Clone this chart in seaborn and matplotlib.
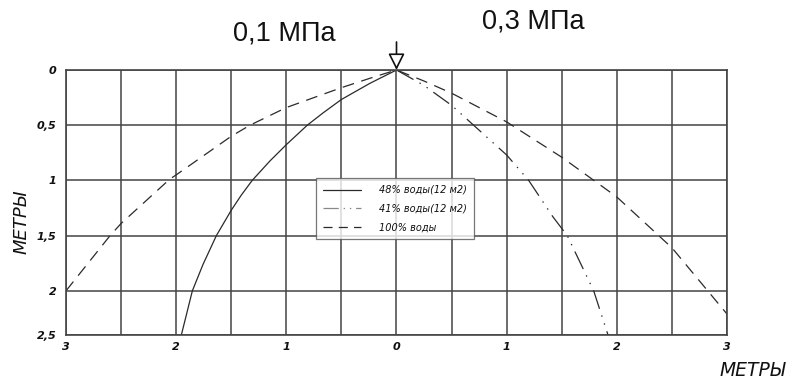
import matplotlib
matplotlib.use("Agg")
import matplotlib.pyplot as plt
from matplotlib.lines import Line2D
import seaborn as sns
import pandas as pd

# ---- data ----
solid_x = [0, -0.24, -0.5, -0.666, -0.81, -1.0, -1.15, -1.31, -1.41, -1.5,
           -1.635, -1.756, -1.853, -1.953]
solid_y = [0, 0.12, 0.267, 0.388, 0.5, 0.676, 0.825, 1.0, 1.135, 1.27,
           1.5, 1.76, 2.0, 2.4]

dashdot_x = [0, 0.25, 0.5, 1.0, 1.2, 1.42, 1.55, 1.79, 1.92]
dashdot_y = [0, 0.14, 0.32, 0.77, 1.0, 1.33, 1.5, 2.0, 2.4]

dashed_x = [-3.0, -2.6, -2.5, -2.06, -2.0, -1.5, -1.33, -1.0, -0.5, -0.18, 0,
            0.25, 0.5, 1.0, 1.5, 2.0, 2.5, 3.0]
dashed_y = [2.0, 1.5, 1.39, 0.99, 0.95, 0.60, 0.5, 0.34, 0.16, 0.055, 0,
            0.10, 0.21, 0.47, 0.79, 1.15, 1.61, 2.21]

series_labels = ["48% воды(12 м2)", "41% воды(12 м2)", "100% воды"]

x_ticks = [-3, -2.5, -2, -1.5, -1, -0.5, 0, 0.5, 1, 1.5, 2, 2.5, 3]
x_tick_labels = ["3", "", "2", "", "1", "", "0", "", "1", "", "2", "", "3"]
y_ticks = [0, 0.5, 1, 1.5, 2, 2.4]
y_tick_labels = ["0", "0,5", "1", "1,5", "2", "2,5"]

left_title = "0,1 МПа"
right_title = "0,3 МПа"
axis_label = "МЕТРЫ"

# ---- styling ----
sns.set_theme(style="white")
plt.rcParams["font.family"] = ["DejaVu Sans"]
plt.rcParams["lines.scale_dashes"] = False

fig = plt.figure(figsize=(8.04, 3.89), dpi=100)
ax = fig.add_axes([66 / 804, 1 - 335 / 389, 661 / 804, 265 / 389])

grid_c = "#444444"
line_c = "#2a2a2a"
lw = 0.9
dd_style = (0, (14, 5, 1, 5, 1, 5))
dash_style = (0, (8.5, 5.5))

df_solid = pd.DataFrame({"x": solid_x, "y": solid_y})
df_dd = pd.DataFrame({"x": dashdot_x, "y": dashdot_y})
df_dash = pd.DataFrame({"x": dashed_x, "y": dashed_y})

sns.lineplot(data=df_solid, x="x", y="y", sort=False, estimator=None, ax=ax,
             color=line_c, lw=lw)
sns.lineplot(data=df_dd, x="x", y="y", sort=False, estimator=None, ax=ax,
             color=line_c, lw=lw, linestyle=dd_style)
sns.lineplot(data=df_dash, x="x", y="y", sort=False, estimator=None, ax=ax,
             color=line_c, lw=lw, linestyle=dash_style)

ax.set_xlim(-3, 3)
ax.set_ylim(2.4, 0)
ax.set_xticks(x_ticks)
ax.set_xticklabels(x_tick_labels)
ax.set_yticks(y_ticks)
ax.set_yticklabels(y_tick_labels)
ax.grid(True, color=grid_c, lw=1.1)
ax.set_axisbelow(True)
for s in ax.spines.values():
    s.set_visible(True)
    s.set_color(grid_c)
    s.set_linewidth(1.2)

ax.tick_params(axis="both", length=0)
ax.tick_params(axis="x", pad=5)
ax.tick_params(axis="y", pad=7)
for lab in ax.get_xticklabels() + ax.get_yticklabels():
    lab.set_fontstyle("italic")
    lab.set_fontweight("bold")
    lab.set_fontsize(8)
    lab.set_color("#111111")

ax.set_xlabel("")
ax.set_ylabel(axis_label, fontsize=13, fontstyle="italic", color="#111111")
ax.yaxis.set_label_coords(-0.053, 0.5 - (222 - 202.5) / 265)

fig.text(720 / 804, 1 - 370 / 389, axis_label, fontsize=13.5, fontstyle="italic",
         color="#111111", ha="left", va="center")

fig.text(284 / 804, 1 - 33 / 389, left_title, fontsize=19.5,
         family="Liberation Sans", ha="center", va="center", color="#111111")
fig.text(533 / 804, 1 - 22 / 389, right_title, fontsize=19.5,
         family="Liberation Sans", ha="center", va="center", color="#111111")

# load arrow at the origin
ax.annotate("", xy=(0, 0), xytext=(0, 28), textcoords="offset pixels",
            annotation_clip=False,
            arrowprops=dict(arrowstyle="-|>,head_length=1.0,head_width=0.5",
                            mutation_scale=10, fc="white", ec="#111111",
                            lw=1.2, shrinkA=0, shrinkB=0))

handles = [
    Line2D([], [], color=line_c, lw=lw),
    Line2D([], [], color="#888888", lw=lw, linestyle=(0, (11, 3.5, 1, 3.5, 1, 3.5))),
    Line2D([], [], color=line_c, lw=lw, linestyle=(0, (6.5, 4.5))),
]
leg = ax.legend(handles, series_labels, loc="upper left",
                bbox_to_anchor=(0.378, 0.592), borderaxespad=0,
                frameon=True, fancybox=False, edgecolor="#555555",
                prop={"style": "italic", "size": 7}, handlelength=3.9,
                labelspacing=0.9, handletextpad=1.9, borderpad=0.7)
leg.get_frame().set_linewidth(0.9)
for t in leg.get_texts():
    t.set_color("#111111")

fig.savefig("out.png", dpi=100, facecolor="white")
